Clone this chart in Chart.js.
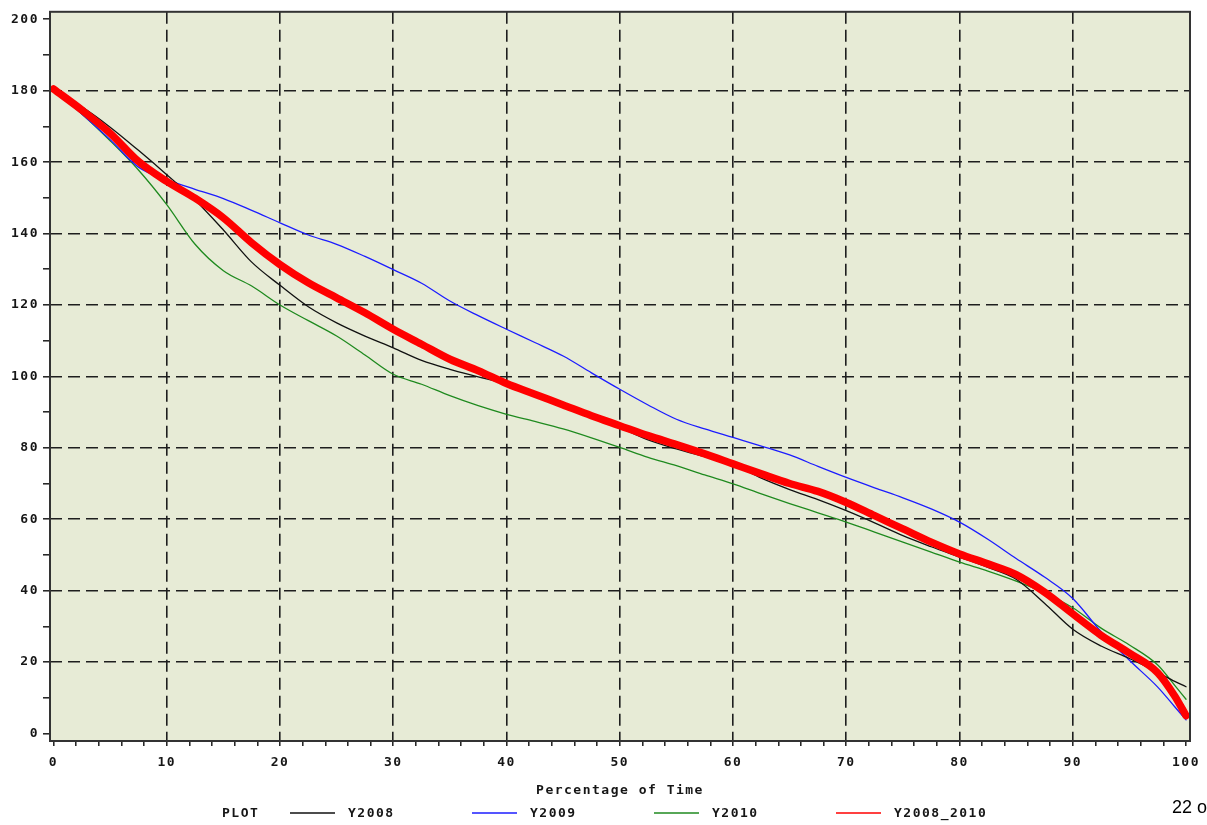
<!DOCTYPE html>
<html>
<head>
<meta charset="utf-8">
<script src="https://cdn.jsdelivr.net/npm/chart.js@4/dist/chart.umd.min.js"></script>
<style>
  html, body { margin: 0; padding: 0; background: #fff; overflow: hidden; }
  #wrap { position: relative; width: 1207px; height: 825px; overflow: hidden; }
  #page { position: absolute; left: 1172px; top: 797px; font: 18px "Liberation Sans", Arial, sans-serif; color: #000; white-space: nowrap; }
</style>
</head>
<body>
<div id="wrap">
  <canvas id="chart" width="1207" height="825"></canvas>
  <div id="page">22 of</div>
</div>
<script>
// Percentage of time (x positions shared by every series)
const pct = [0, 2.5, 5, 7.5, 10, 12.5, 15, 17.5, 20, 22.5, 25, 27.5, 30, 32.5, 35, 37.5,
             40, 42.5, 45, 47.5, 50, 52.5, 55, 57.5, 60, 62.5, 65, 67.5, 70, 72.5, 75,
             77.5, 80, 82.5, 85, 87.5, 90, 92.5, 95, 97.5, 99, 100];

const y2008 = [180, 175.5, 169.8, 163.3, 156.5, 149.4, 141.0, 132.0, 125.5, 119.5, 115.0, 111.3,
               108.0, 104.5, 102.0, 99.9, 97.8, 95.0, 92.0, 89.0, 85.7, 82.2, 79.7, 77.5,
               75.3, 71.5, 68.3, 65.5, 62.4, 59.0, 55.4, 52.3, 49.4, 46.5, 43.2, 36.5,
               29.2, 24.5, 21.0, 17.1, 14.6, 13.1];

const y2009 = [180, 173.5, 166.3, 158.6, 155.1, 152.4, 149.8, 146.5, 143.0, 139.6, 137.0, 133.6,
               129.9, 126.1, 121.1, 117.0, 113.2, 109.5, 105.7, 101.0, 96.4, 92.0, 88.0, 85.3,
               82.9, 80.5, 78.0, 74.8, 71.7, 68.8, 66.0, 62.9, 59.2, 54.4, 49.0, 43.8,
               37.8, 28.5, 20.5, 13.0, 7.5, 3.8];

const y2010 = [180, 173.5, 166.0, 157.8, 148.1, 137.0, 129.6, 125.3, 120.0, 115.6, 111.3, 106.0,
               100.6, 97.8, 94.6, 91.8, 89.4, 87.4, 85.3, 82.8, 80.1, 77.3, 75.0, 72.4,
               69.9, 67.1, 64.4, 61.8, 59.2, 56.4, 53.6, 50.8, 48.0, 45.5, 42.7, 39.4,
               35.2, 29.5, 24.8, 19.2, 13.5, 9.6];

const y2008_2010 = [180.5, 174.6, 168.1, 160.2, 154.6, 149.9, 144.4, 137.4, 131.3, 126.2, 122.0, 117.8,
                    113.2, 109.0, 104.8, 101.6, 98.0, 95.0, 92.0, 89.0, 86.2, 83.4, 80.9, 78.3,
                    75.5, 72.7, 70.0, 67.8, 64.7, 61.0, 57.3, 53.6, 50.3, 47.5, 44.5, 39.6,
                    33.5, 27.5, 22.5, 17.0, 10.5, 5.0];

const seriesNames = ['Y2008', 'Y2009', 'Y2010', 'Y2008_2010'];
const seriesValues = [y2008, y2009, y2010, y2008_2010];
const seriesColors = ['#111111', '#1c1cff', '#1f8a1f', '#ff0000'];
const seriesWidths = [1.3, 1.3, 1.3, 7.5];

// Axis tick values (majors carry labels, the rest are minor marks)
const xTickValues = [];
for (let v = 0; v <= 100; v += 2) xTickValues.push(v);
const yTickValues = [];
for (let v = 0; v <= 200; v += 10) yTickValues.push(v);

const xTitle = 'Percentage of Time';
const legendTitle = 'PLOT';

const FONT = 'DejaVu Sans Mono';
const TEXT = '#161616';
const GRID = '#1e1e1e';

const datasets = seriesNames.map((name, i) => ({
  label: name,
  data: pct.map((x, k) => ({ x: x, y: seriesValues[i][k] })),
  borderColor: seriesColors[i],
  backgroundColor: seriesColors[i],
  borderWidth: seriesWidths[i],
  borderCapStyle: 'round',
  borderJoinStyle: 'round',
  pointRadius: 0,
  fill: false,
  order: name === 'Y2008_2010' ? 0 : 1
}));

// Plot background, frame, spaced lettering and the bottom key
const plotDecor = {
  id: 'plotDecor',
  beforeDraw(chart) {
    const { ctx, chartArea: a } = chart;
    ctx.letterSpacing = '1.5px';
    ctx.save();
    ctx.fillStyle = '#e7ebd6';
    ctx.fillRect(a.left, a.top, a.right - a.left, a.bottom - a.top);
    ctx.restore();
  },
  afterDatasetsDraw(chart) {
    const { ctx, chartArea: a } = chart;
    ctx.save();
    ctx.strokeStyle = '#333333';
    ctx.lineWidth = 2;
    ctx.strokeRect(a.left, a.top, a.right - a.left, a.bottom - a.top);
    ctx.restore();
  },
  afterDraw(chart) {
    const ctx = chart.ctx;
    ctx.save();
    ctx.letterSpacing = '1.5px';
    ctx.font = 'bold 13px "' + FONT + '"';
    ctx.textBaseline = 'middle';
    ctx.textAlign = 'left';
    ctx.fillStyle = TEXT;
    const yKey = 813;
    ctx.fillText(legendTitle, 222, yKey + 1);
    chart.data.datasets.forEach((ds, i) => {
      const x0 = 290 + i * 182;
      ctx.strokeStyle = ds.borderColor;
      ctx.lineWidth = 1.5;
      ctx.beginPath();
      ctx.moveTo(x0, yKey);
      ctx.lineTo(x0 + 45, yKey);
      ctx.stroke();
      ctx.fillText(ds.label, x0 + 58, yKey + 1);
    });
    ctx.restore();
  }
};

new Chart(document.getElementById('chart'), {
  type: 'line',
  data: { datasets },
  plugins: [plotDecor],
  options: {
    responsive: false,
    animation: false,
    layout: { padding: { top: 10, right: 17, bottom: 0, left: 0 } },
    plugins: { legend: { display: false }, tooltip: { enabled: false } },
    elements: { line: { cubicInterpolationMode: 'monotone' }, point: { radius: 0 } },
    scales: {
      x: {
        type: 'linear',
        min: -0.31,
        max: 100.35,
        afterBuildTicks: s => { s.ticks = xTickValues.map(v => ({ value: v })); },
        afterFit: s => { s.height = 84; },
        ticks: {
          autoSkip: false,
          maxRotation: 0,
          padding: 9,
          color: TEXT,
          font: { family: FONT, size: 13, weight: 'bold' },
          callback: v => (v % 10 === 0 ? String(v) : '')
        },
        grid: {
          color: c => (c.tick && c.tick.value % 10 === 0 && c.tick.value > 0 && c.tick.value < 100) ? GRID : 'rgba(0,0,0,0)',
          lineWidth: 1.6,
          tickLength: 5,
          tickColor: GRID,
          tickWidth: 1.5
        },
        border: { display: false, dash: [12, 6] },
        title: {
          display: true,
          text: xTitle,
          color: TEXT,
          font: { family: FONT, size: 13, weight: 'bold' },
          padding: { top: 0, bottom: 27 }
        }
      },
      y: {
        type: 'linear',
        min: -2.1,
        max: 202.1,
        afterBuildTicks: s => { s.ticks = yTickValues.map(v => ({ value: v })); },
        afterFit: s => { s.width = 50; },
        ticks: {
          autoSkip: false,
          padding: 4,
          color: TEXT,
          font: { family: FONT, size: 13, weight: 'bold' },
          callback: v => (v % 20 === 0 ? String(v) : '')
        },
        grid: {
          color: c => (c.tick && c.tick.value % 20 === 0 && c.tick.value > 0 && c.tick.value < 200) ? GRID : 'rgba(0,0,0,0)',
          lineWidth: 1.6,
          tickLength: 7,
          tickColor: GRID,
          tickWidth: 1.5
        },
        border: { display: false, dash: [12, 6] }
      }
    }
  }
});
</script>
</body>
</html>
